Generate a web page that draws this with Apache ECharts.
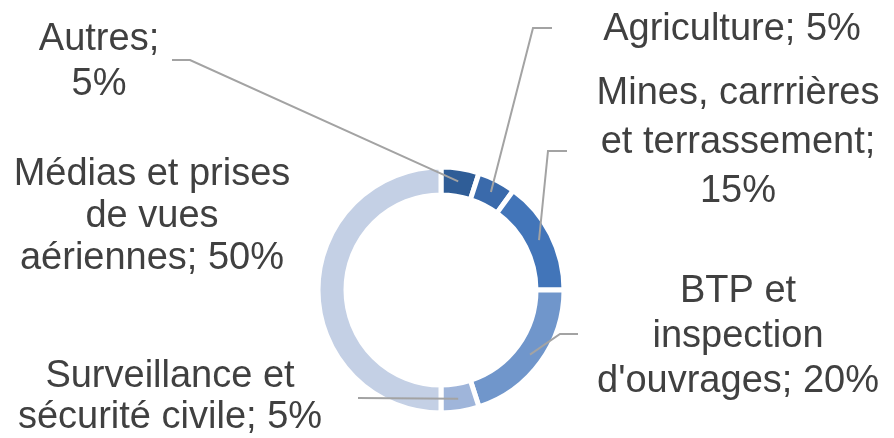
<!DOCTYPE html>
<html>
<head>
<meta charset="utf-8">
<script src="https://cdn.jsdelivr.net/npm/echarts@6/dist/echarts.min.js"></script>
<style>
  html, body { margin: 0; padding: 0; background: #fff; }
  #main { width: 894px; height: 438px; }
</style>
</head>
<body>
<div id="main"></div>
<script>
// data
var names = ['Autres', 'Agriculture', 'Mines, carrrières et terrassement', 'BTP et inspection d\'ouvrages', 'Surveillance et sécurité civile', 'Médias et prises de vues aériennes'];
var labels = ['Autres;\n5%', 'Agriculture; 5%', 'Mines, carrrières\net terrassement;\n15%', 'BTP et\ninspection\nd\'ouvrages; 20%', 'Surveillance et\nsécurité civile; 5%', 'Médias et prises\nde vues\naériennes; 50%'];
var values = [5, 5, 15, 20, 5, 50];
var colors = ['#2f5d97', '#3a6aab', '#4275b9', '#7096cb', '#9fb5da', '#c4d0e5'];

// label placement (centre of text block) and line elbow/end points
var labelPos = [[99, 62], [732, 30], [738, 143], [738, 337], [170, 397], [152, 217]];
var lineHeights = [45, 40, 49, 45, 41, 42];
var elbows = [
  [[190, 60], [172, 60]],
  [[533, 28], [552, 28]],
  [[548, 151], [567, 151]],
  [[560, 334], [578, 334]],
  [[358, 398], [358, 398]],
  null
];

var cx = 441, cy = 290;
var total = values.reduce(function (a, b) { return a + b; }, 0);

function anchor(i) {
  var before = 0;
  for (var k = 0; k < i; k++) before += values[k];
  var mid = (before + values[i] / 2) / total * 2 * Math.PI;
  return [cx + 110 * Math.sin(mid), cy - 110 * Math.cos(mid)];
}

var chart = echarts.init(document.getElementById('main'));

var option = {
  backgroundColor: '#fff',
  animation: false,
  series: [{
    // ring
    type: 'pie',
    center: [cx, cy],
    radius: [95, 123],
    startAngle: 90,
    clockwise: true,
    z: 2,
    label: { show: false },
    labelLine: { show: false },
    itemStyle: { borderColor: '#fff', borderWidth: 5 },
    emphasis: { disabled: true },
    data: values.map(function (v, i) {
      return { name: names[i], value: v, itemStyle: { color: colors[i] } };
    })
  }, {
    // labels + leader lines drawn above the ring
    type: 'pie',
    center: [cx, cy],
    radius: [95, 123],
    startAngle: 90,
    clockwise: true,
    z: 5,
    silent: true,
    avoidLabelOverlap: false,
    itemStyle: { color: 'rgba(0,0,0,0)', borderWidth: 0 },
    label: {
      show: true,
      position: 'outside',
      fontFamily: 'Liberation Sans, Arial, sans-serif',
      fontSize: 38,
      color: '#404040',
      align: 'center'
    },
    labelLine: {
      show: true,
      smooth: false,
      lineStyle: { color: '#a3a3a3', width: 2 }
    },
    emphasis: { disabled: true },
    labelLayout: function (params) {
      var i = params.dataIndex;
      var res = {
        x: labelPos[i][0],
        y: labelPos[i][1],
        align: 'center',
        verticalAlign: 'middle'
      };
      if (elbows[i]) {
        res.labelLinePoints = [anchor(i), elbows[i][0], elbows[i][1]];
      }
      return res;
    },
    data: values.map(function (v, i) {
      return {
        name: names[i],
        value: v,
        label: { formatter: labels[i], lineHeight: lineHeights[i] },
        labelLine: { show: elbows[i] !== null }
      };
    })
  }]
};

chart.setOption(option);
</script>
</body>
</html>
